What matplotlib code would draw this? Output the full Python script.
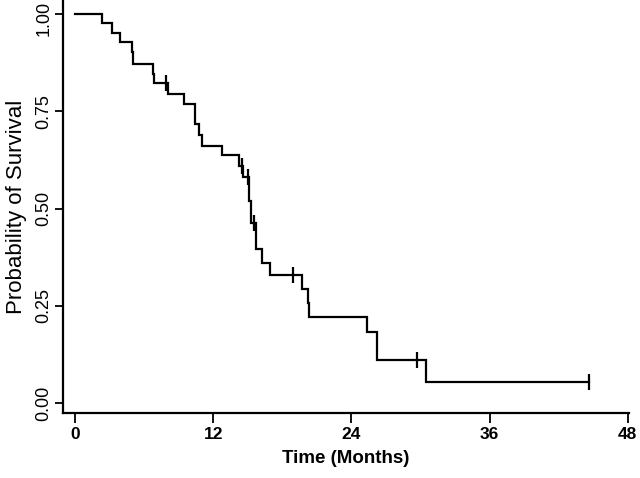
import numpy as np
import matplotlib
matplotlib.use("Agg")
import matplotlib.pyplot as plt
import matplotlib.transforms as mtransforms

# Kaplan-Meier step data
event_times = [0, 2.37, 3.24, 3.91, 4.92, 5.07, 6.75, 6.89, 8.11, 9.5, 10.43, 10.8, 11.0,
               12.74, 14.25, 14.63, 15.1, 15.3, 15.7, 16.2, 16.94, 19.75, 20.2, 20.35,
               25.4, 26.2, 30.5]
survival = [1.0, 0.976, 0.951, 0.927, 0.902, 0.872, 0.846, 0.822, 0.794, 0.768, 0.716, 0.689, 0.661,
            0.637, 0.609, 0.580, 0.519, 0.462, 0.395, 0.361, 0.329, 0.293, 0.257, 0.220,
            0.183, 0.110, 0.055]
censor_times = [7.88, 14.48, 15.0, 15.58, 18.9, 29.7, 44.6]
end_time = 44.6

x_ticks = [0, 12, 24, 36, 48]
y_ticks = [0.0, 0.25, 0.5, 0.75, 1.0]
y_tick_labels = ["0.00", "0.25", "0.50", "0.75", "1.00"]

fig = plt.figure(figsize=(6.4, 4.78), dpi=100)
ax = fig.add_axes([63/640, 1 - 413/478, (629 - 63)/640, 413/478])

t = np.array(event_times + [end_time])
s = np.array(survival + [survival[-1]])
ax.step(t, s, where="post", color="black", lw=1.6, solid_joinstyle="miter")

idx = np.searchsorted(np.array(event_times), np.array(censor_times), side="right") - 1
cs = np.array(survival)[idx]
ax.plot(censor_times, cs, linestyle="none", marker="|", ms=11.5, mew=1.6, color="black")

ax.set_xlim(-1.04, 48.11)
ax.set_ylim(-0.0257, 1.036)

for side in ["top", "right"]:
    ax.spines[side].set_visible(False)
for side in ["left", "bottom"]:
    ax.spines[side].set_linewidth(1.6)
    ax.spines[side].set_color("black")

ax.set_xticks(x_ticks)
ax.set_xticklabels([str(v) for v in x_ticks], fontsize=12.5, fontweight="bold",
                   family=["Liberation Sans Narrow", "Liberation Sans", "DejaVu Sans"])
ax.set_yticks(y_ticks)
ax.set_yticklabels(y_tick_labels, fontsize=13, rotation=90, va="center",
                   family=["Liberation Sans", "DejaVu Sans"])
ax.tick_params(axis="x", direction="out", length=7, width=1.3, color="black", pad=3)
ax.tick_params(axis="y", direction="out", length=6, width=1.3, color="black", pad=1.5)

# nudge the top tick label down slightly so it stays inside the figure
top_label = ax.get_yticklabels()[-1]
top_label.set_transform(top_label.get_transform() +
                        mtransforms.ScaledTranslation(0, -3/72, fig.dpi_scale_trans))

ax.set_xlabel("Time (Months)", fontsize=13.5, fontweight="bold",
              family=["Liberation Sans Narrow", "Liberation Sans", "DejaVu Sans"], labelpad=6)
ax.set_ylabel("Probability of Survival", fontsize=16,
              family=["Liberation Sans", "DejaVu Sans"], labelpad=6)

fig.savefig("out.png", dpi=100)
